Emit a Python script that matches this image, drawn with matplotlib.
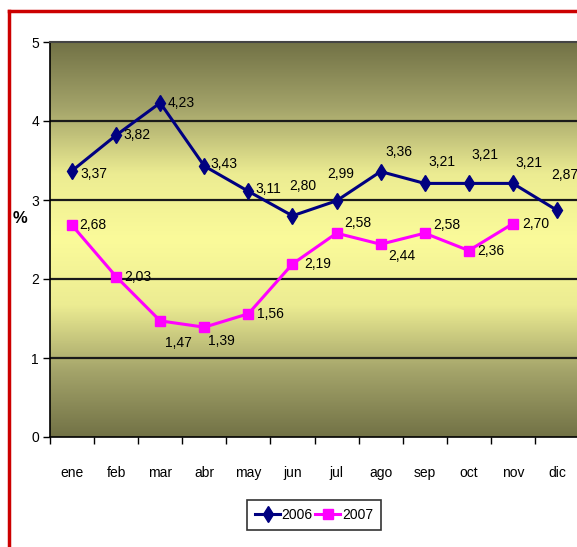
import numpy as np
import matplotlib.pyplot as plt
from matplotlib import font_manager
from matplotlib.colors import LinearSegmentedColormap
from matplotlib.lines import Line2D

meses = ["ene", "feb", "mar", "abr", "may", "jun", "jul", "ago", "sep", "oct", "nov", "dic"]
serie_2006 = [3.37, 3.82, 4.23, 3.43, 3.11, 2.80, 2.99, 3.36, 3.21, 3.21, 3.21, 2.87]
serie_2007 = [2.68, 2.03, 1.47, 1.39, 1.56, 2.19, 2.58, 2.44, 2.58, 2.36, 2.70]

# label offsets in pixels (dx, dy, ha)
off_2006 = [(8, -3, "left"), (7, 0, "left"), (7, 0, "left"), (6, 2, "left"), (7, 2, "left"),
            (10, 30, "center"), (4, 27, "center"), (18, 20, "center"), (17, 21, "center"),
            (16, 28, "center"), (16, 20, "center"), (8, 35, "center")]
off_2007 = [(7, 0, "left"), (8, 0, "left"), (18, -22, "center"), (17, -14, "center"),
            (9, 0, "left"), (12, 0, "left"), (8, 10, "left"), (8, -12, "left"),
            (9, 8, "left"), (8, 0, "left"), (9, 0, "left")]

names = {f.name for f in font_manager.fontManager.ttflist}
fam = "Liberation Sans Narrow" if "Liberation Sans Narrow" in names else "Liberation Sans"
plt.rcParams["font.family"] = [fam, "DejaVu Sans"]

fig = plt.figure(figsize=(5.77, 5.47), dpi=100)

# red frame on the left and top
fig.add_artist(Line2D([8.5 / 577, 8.5 / 577], [0, 1 - 11 / 547], color="#cc0000", lw=2.5,
                      transform=fig.transFigure))
fig.add_artist(Line2D([8.5 / 577, 1], [1 - 11 / 547, 1 - 11 / 547], color="#cc0000", lw=2.5,
                      transform=fig.transFigure))

ax = fig.add_axes([50 / 577, 1 - 437 / 547, 529 / 577, 395 / 547])

cmap = LinearSegmentedColormap.from_list("olive", ["#727246", "#a4a46a", "#ecec92", "#fbfb9a",
                                                   "#ecec92", "#a4a46a", "#727246"])
grad = np.linspace(0, 1, 256).reshape(-1, 1)
ax.imshow(grad, extent=(-0.5, 11.5, 0, 5), aspect="auto", cmap=cmap, origin="upper", zorder=0)

for y in [1, 2, 3, 4]:
    ax.axhline(y, color="#1a1a1a", lw=1.6, zorder=1)

x6 = np.arange(len(serie_2006))
x7 = np.arange(len(serie_2007))
ax.plot(x6, serie_2006, color="#000080", lw=2.2, marker="d", ms=8, label="2006", zorder=3)
ax.plot(x7, serie_2007, color="#ff00ff", lw=2.2, marker="s", ms=7, label="2007", zorder=3)

for xi, v, (dx, dy, ha) in zip(x6, serie_2006, off_2006):
    ax.annotate(f"{v:.2f}".replace(".", ","), (xi, v), xytext=(dx, dy),
                textcoords="offset pixels", ha=ha, va="center", fontsize=10, zorder=4)
for xi, v, (dx, dy, ha) in zip(x7, serie_2007, off_2007):
    ax.annotate(f"{v:.2f}".replace(".", ","), (xi, v), xytext=(dx, dy),
                textcoords="offset pixels", ha=ha, va="center", fontsize=10, zorder=4)

ax.set_xlim(-0.5, 11.5)
ax.set_ylim(0, 5)
ax.set_yticks([0, 1, 2, 3, 4, 5])
ax.set_xticks(np.arange(-0.5, 12, 1))
ax.set_xticklabels([])
ax.set_xticks(np.arange(12), minor=True)
ax.set_xticklabels(meses, minor=True)
ax.tick_params(axis="x", which="major", length=5, width=1, direction="out")
ax.tick_params(axis="x", which="minor", length=0, pad=21, labelsize=10)
ax.tick_params(axis="y", length=5, width=1, labelsize=10, pad=3)
for s in ["left", "bottom"]:
    ax.spines[s].set_linewidth(1.2)
ax.spines["top"].set_color("#444444")
ax.spines["top"].set_linewidth(1.5)
ax.spines["right"].set_visible(False)

fig.text(20 / 577, 1 - 218 / 547, "%", fontsize=12, fontweight="bold", ha="center", va="center")

leg = fig.legend(loc="center", bbox_to_anchor=(314 / 577, 1 - 515 / 547), ncol=2, frameon=True,
                 fancybox=False, edgecolor="black", fontsize=10, handlelength=1.8,
                 handletextpad=0.1, columnspacing=0.2, borderpad=0.6, borderaxespad=0)
leg.get_frame().set_linewidth(1.2)

fig.savefig("out.png", dpi=100)
